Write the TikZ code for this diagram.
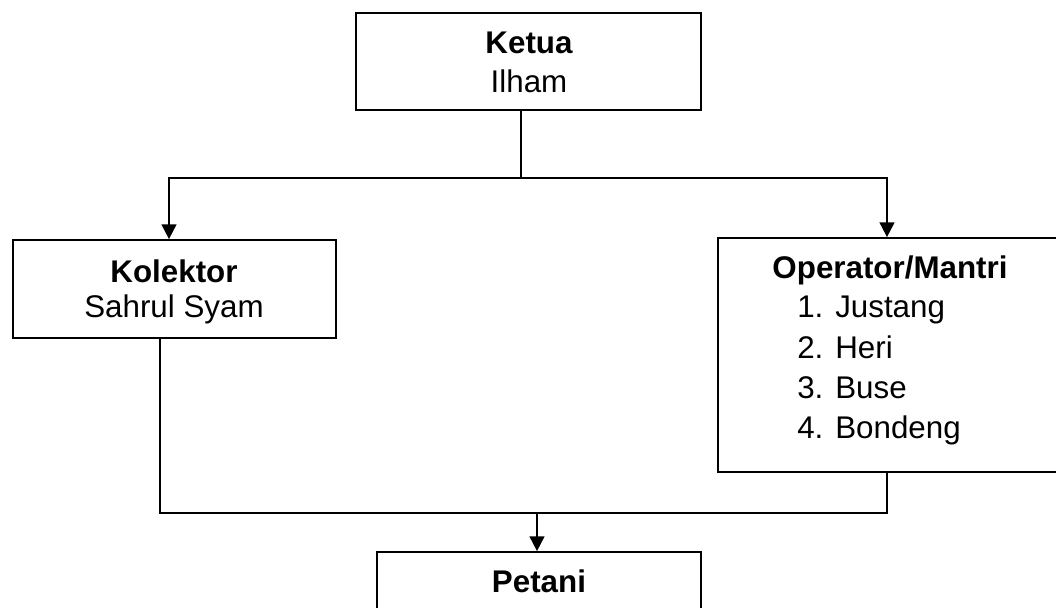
\documentclass[tikz,border=0pt]{standalone}
\usepackage{fontspec}
\setmainfont{Liberation Sans}
\usetikzlibrary{arrows.meta,fit}
\begin{document}
\begin{tikzpicture}[x=0.75pt,y=-0.75pt,
  box/.style={draw,line width=1.3pt,inner sep=0pt,rectangle},
  txt/.style={inner sep=0pt,anchor=base,font=\fontsize{23.5}{30}\selectfont},
  txtl/.style={txt,anchor=base west},
  conn/.style={line width=1.4pt},
  arr/.style={conn,-{Triangle[length=11pt,width=11pt]}}]
\clip (0,0) rectangle (1056,607);
% boxes
\node[box,fit={(356,13) (701,110)}] (ketua) {};
\node[box,fit={(13,240) (336,338)}] (kol) {};
\node[box,fit={(718,238) (1075,472)}] (op) {};
\node[box,fit={(377,552) (701,640)}] (pet) {};
% texts
\node[txt] (ketuaT) at (529,53) {\bfseries Ketua};
\node[txt] (ketuaN) at (529,92) {Ilham};
\node[txt] (kolT) at (174,282) {\bfseries Kolektor};
\node[txt] (kolN) at (174,317) {Sahrul Syam};
\node[txt] (opT) at (890,278) {\bfseries Operator/Mantri};
\node[txtl] (n1) at (797,317) {1.};
\node[txtl] (i1) at (835,317) {Justang};
\node[txtl] (n2) at (797,358) {2.};
\node[txtl] (i2) at (835,358) {Heri};
\node[txtl] (n3) at (797,398) {3.};
\node[txtl] (i3) at (835,398) {Buse};
\node[txtl] (n4) at (797,438) {4.};
\node[txtl] (i4) at (835,438) {Bondeng};
\node[txt] (petT) at (539,592) {\bfseries Petani};
% connectors
\coordinate (t) at (521,178);
\coordinate (tl) at (169,178);
\coordinate (tr) at (887,178);
\coordinate (bl) at (160,513);
\coordinate (br) at (887,513);
\coordinate (bm) at (537,513);
\draw[conn] (ketua.south -| t) -- (t);
\draw[arr] (t) -- (tl) -- (kol.north -| tl);
\draw[arr] (t) -- (tr) -- (op.north -| tr);
\draw[conn] (kol.south -| bl) -- (bl) -- (br) -- (op.south -| br);
\draw[arr] (bm) -- (pet.north -| bm);
\end{tikzpicture}
\end{document}
